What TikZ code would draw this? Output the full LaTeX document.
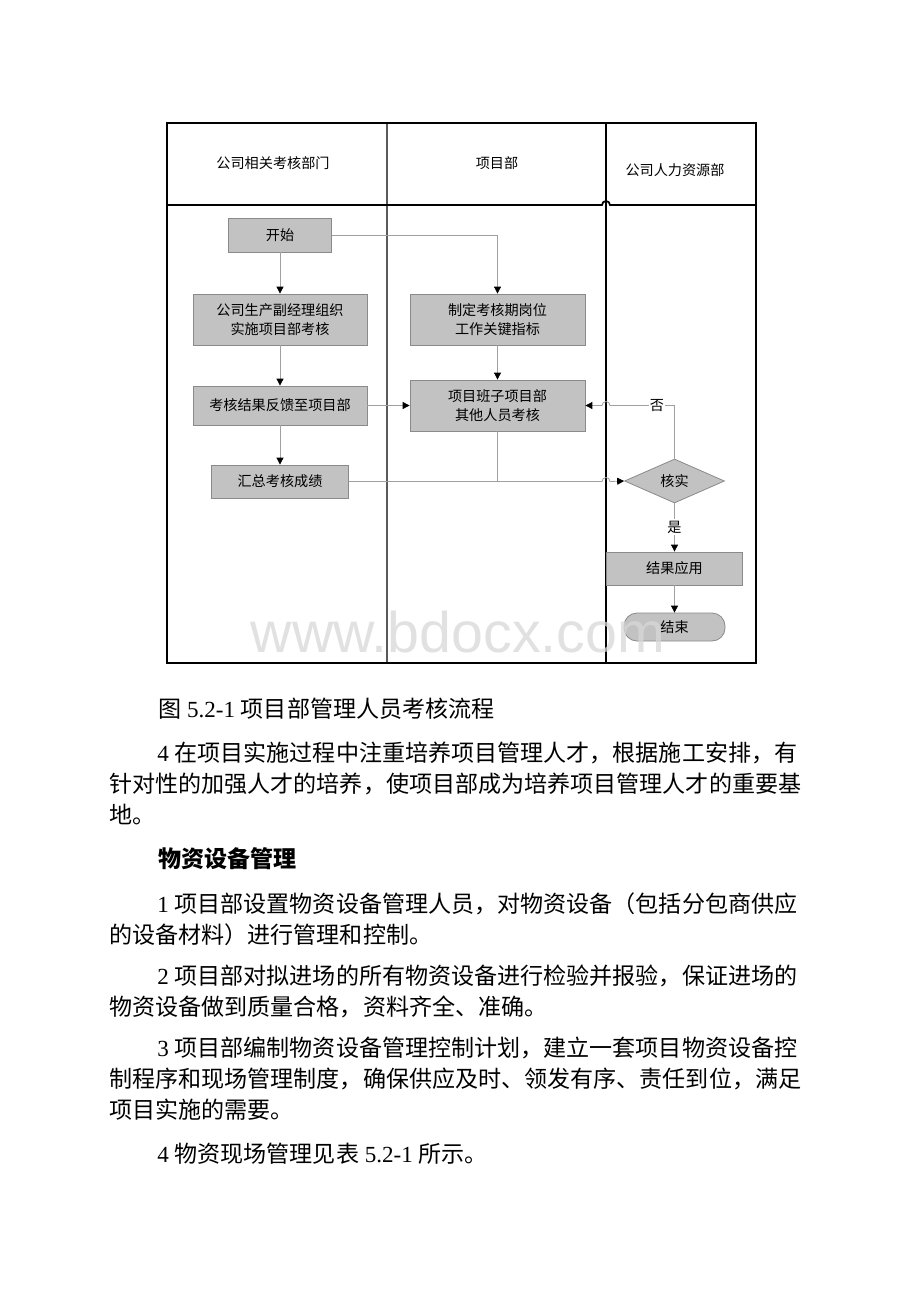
\documentclass[tikz,border=0pt]{standalone}
\usepackage{fontspec}
\setmainfont{Liberation Serif}
\newfontfamily\cjk{Noto Sans CJK SC}
\newfontfamily\wmfont{Liberation Sans}
\usetikzlibrary{arrows.meta,shapes.geometric,calc}
\newdimen\pu \pu=0.75pt
\definecolor{boxfill}{HTML}{C2C2C2}
\definecolor{boxline}{HTML}{8A8A8A}
\definecolor{connc}{HTML}{A0A0A0}
\definecolor{wmc}{HTML}{D8D8D8}
\tikzset{
  flowbox/.style={draw=boxline, fill=boxfill, line width=0.6pt, inner sep=0pt, align=center,
    font=\cjk\fontsize{10.6}{14.5}\selectfont},
  conn/.style={draw=connc, line width=0.6pt},
  arr/.style={-{Triangle[length=5.2pt, width=5.2pt, color=black]}},
  lanehead/.style={font=\cjk\fontsize{10.6}{13}\selectfont, inner sep=0pt},
  lbl/.style={font=\cjk\fontsize{10.6}{13}\selectfont, fill=white, inner sep=1pt},
  bodyline/.style={anchor=base west, inner sep=0pt, font=\fontsize{17.3}{20}\selectfont},
}
\begin{document}
\begin{tikzpicture}[x=0.75pt, y=-0.75pt]
\useasboundingbox (0,0) rectangle (920,1302);
\fill[white] (0,0) rectangle (920,1302);

% lanes and frame
\draw[line width=0.8pt, black!65] (387,123) -- (387,663);
\draw[line width=1.3pt] (606,123) -- (606,663);
\draw[line width=1.3pt] (167,205) -- (602,205) arc[start angle=180, end angle=360, radius=4] -- (756,205);
\draw[line width=1.3pt] (167,123) rectangle (756,663);

\node[lanehead] (h1) at (273,163) {公司相关考核部门};
\node[lanehead] (h2) at (497,163) {项目部};
\node[lanehead] (h3) at (675,170) {公司人力资源部};

% boxes
\node[flowbox, minimum width=103*\pu, minimum height=34*\pu] (start) at (280,235) {开始};
\node[flowbox, minimum width=174*\pu, minimum height=51*\pu] (org) at (280,319.5) {公司生产副经理组织\\实施项目部考核};
\node[flowbox, minimum width=174*\pu, minimum height=39*\pu] (fb) at (280,405.5) {考核结果反馈至项目部};
\node[flowbox, minimum width=137*\pu, minimum height=33*\pu] (sum) at (280,481.5) {汇总考核成绩};
\node[flowbox, minimum width=175*\pu, minimum height=51*\pu] (kpi) at (497.5,319.5) {制定考核期岗位\\工作关键指标};
\node[flowbox, minimum width=175*\pu, minimum height=51*\pu] (eval) at (497.5,405.5) {项目班子项目部\\其他人员考核};
\node[flowbox, shape=diamond, aspect=2.2, minimum width=100*\pu, minimum height=44*\pu] (chk) at (674.5,481) {核实};
\node[flowbox, minimum width=136*\pu, minimum height=33*\pu] (apply) at (674.5,568.5) {结果应用};
\node[flowbox, minimum width=101*\pu, minimum height=28*\pu, rounded corners=9.75pt] (end) at (674.5,627) {结束};

% connectors
\draw[conn, arr] (start) -- (org);
\draw[conn, arr] (start.east) -| (kpi.north);
\draw[conn, arr] (org) -- (fb);
\draw[conn, arr] (fb) -- (sum);
\draw[conn, arr] (fb.east) -- (eval.west);
\draw[conn, arr] (kpi) -- (eval);
\draw[conn] (eval.south) -- (eval.south |- sum.east);
\draw[conn, arr] (sum.east) -- (602,481.5) arc[start angle=180, end angle=360, radius=4] -- (chk.west);
\coordinate (nocorner) at (chk.north |- eval.east);
\draw[conn, arr] (chk.north) -- (nocorner) -- (610,405.5) arc[start angle=0, end angle=-180, radius=4] -- (eval.east);
\node[lbl] (no) at (657,405.5) {否};
\draw[conn, arr] (chk.south) -- (apply.north);
\node[lbl] (yes) at (674.5,527) {是};
\draw[conn, arr] (apply) -- (end);

% watermark
\node[font=\wmfont\fontsize{43}{43}\selectfont, text=wmc, opacity=0.75, inner sep=0pt] (wm) at (458,632) {www.bdocx.com};

% body text
\node[bodyline] (cap) at (158,717) {{\cjk 图} 5.2-1 {\cjk 项目部管理人员考核流程}};
\node[bodyline] (p1a) at (157,761) {4 {\cjk 在项目实施过程中注重培养项目管理人才，根据施工安排，有}};
\node[bodyline] (p1b) at (109,792) {\cjk 针对性的加强人才的培养，使项目部成为培养项目管理人才的重要基};
\node[bodyline] (p1c) at (109,823) {\cjk 地。};
\node[bodyline] (head) at (158,867) {\cjk\bfseries 物资设备管理};
\node[bodyline] (q1a) at (157,912) {1 {\cjk 项目部设置物资设备管理人员，对物资设备（包括分包商供应}};
\node[bodyline] (q1b) at (109,943) {\cjk 的设备材料）进行管理和控制。};
\node[bodyline] (q2a) at (157,984) {2 {\cjk 项目部对拟进场的所有物资设备进行检验并报验，保证进场的}};
\node[bodyline] (q2b) at (109,1015) {\cjk 物资设备做到质量合格，资料齐全、准确。};
\node[bodyline] (q3a) at (157,1056) {3 {\cjk 项目部编制物资设备管理控制计划，建立一套项目物资设备控}};
\node[bodyline] (q3b) at (109,1087) {\cjk 制程序和现场管理制度，确保供应及时、领发有序、责任到位，满足};
\node[bodyline] (q3c) at (109,1118) {\cjk 项目实施的需要。};
\node[bodyline] (q4a) at (157,1162) {4 {\cjk 物资现场管理见表} 5.2-1 {\cjk 所示。}};
\end{tikzpicture}
\end{document}
